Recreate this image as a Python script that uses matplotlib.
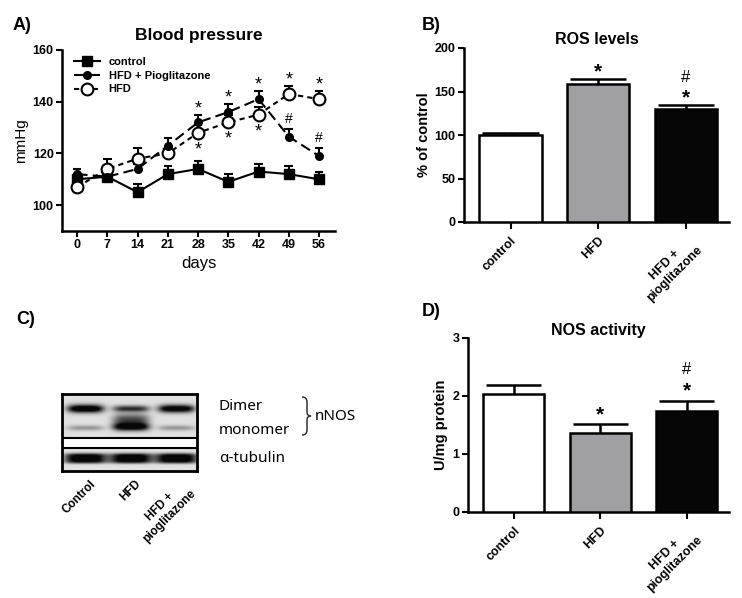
import numpy as np
import matplotlib
matplotlib.use('Agg')
import matplotlib.pyplot as plt
from matplotlib.path import Path
from matplotlib.patches import PathPatch

plt.rcParams['font.family'] = ['Liberation Sans', 'DejaVu Sans']

# A) blood pressure (mmHg)
days = [0, 7, 14, 21, 28, 35, 42, 49, 56]
ctrl_bp = [110, 111, 105, 112, 114, 109, 113, 112, 110]
ctrl_err = [2, 3, 3, 3, 3, 3, 3, 3, 3]
pio_bp = [112, 111, 114, 123, 132, 136, 141, 126.5, 119]
pio_err = [2, 2, 2, 3, 3, 3, 3, 3, 3]
hfd_bp = [107, 114, 118, 120, 128, 132, 135, 143, 141]
hfd_err = [2, 4, 4, 2, 3, 3, 3, 3, 3]
star_pio_days = [28, 35, 42]      # * above HFD+Pio
star_hfd_up_days = [49, 56]       # * above HFD
star_hfd_down_days = [28, 35, 42] # * below HFD
hash_pio_days = [49, 56]          # # above HFD+Pio

# B) ROS levels, D) NOS activity
groups = ['control', 'HFD', 'HFD +\npioglitazone']
ros = [100, 159, 130]
ros_err = [2, 5, 4]
nos = [2.03, 1.37, 1.75]
nos_err = [0.16, 0.14, 0.17]
bar_colors = ['white', '#a0a0a4', '#060606']

# C) western blot band intensities (0 = none, 1 = saturated)
lanes = ['Control', 'HFD', 'HFD +\npioglitazone']
dimer = [1.0, 0.65, 0.95]
monomer = [0.3, 1.0, 0.3]
tubulin = [1.0, 1.0, 1.0]

W, H = 742, 598
fig = plt.figure(figsize=(W / 100, H / 100), dpi=100)


def px_axes(left, top, right, bottom):
    return fig.add_axes([left / W, 1 - bottom / H, (right - left) / W, (bottom - top) / H])


def style(ax):
    for s in ['top', 'right']:
        ax.spines[s].set_visible(False)
    for s in ['left', 'bottom']:
        ax.spines[s].set_linewidth(1.8)
    ax.tick_params(width=1.5, length=4, labelsize=9, pad=2)
    for lab in ax.get_yticklabels() + ax.get_xticklabels():
        lab.set_fontweight('bold')


def up_err(ax, x, y, err, half, lw):
    x = np.asarray(x, float)
    top = np.asarray(y) + np.asarray(err)
    ax.vlines(x, y, top, color='black', lw=lw, zorder=2)
    ax.hlines(top, x - half, x + half, color='black', lw=lw, zorder=2)


# ---------------- A ----------------
axA = px_axes(62, 50, 335, 231)
up_err(axA, days, ctrl_bp, ctrl_err, 1.0, 1.5)
up_err(axA, days, pio_bp, pio_err, 1.0, 1.5)
up_err(axA, days, hfd_bp, hfd_err, 1.0, 1.5)
axA.plot(days, ctrl_bp, '-', color='black', lw=1.5, marker='s', ms=6.5, label='control', zorder=3)
axA.plot(days, pio_bp, color='black', lw=1.5, ls=(0, (5, 2.5)), marker='o', ms=5.5,
         label='HFD + Pioglitazone', zorder=4)
axA.plot(days, hfd_bp, color='black', lw=1.5, ls=(0, (2.5, 2)), marker='o', ms=8.5,
         mfc='white', mew=1.5, label='HFD', zorder=3)
axA.set_xlim(-3.5, 59.7)
axA.set_ylim(90, 160)
axA.set_xticks(days)
axA.set_yticks([100, 120, 140, 160])
axA.set_xlabel('days', fontsize=12, labelpad=3)
axA.set_ylabel('mmHg', fontsize=11, labelpad=3)
axA.set_title('Blood pressure', fontsize=12.5, fontweight='bold', pad=7)
style(axA)
axA.legend(loc='upper left', frameon=False, prop={'size': 8, 'weight': 'bold'},
           handlelength=2.3, borderaxespad=0.2, labelspacing=0.35,
           bbox_to_anchor=(0.02, 1.0))

for d in star_pio_days:
    i = days.index(d)
    axA.text(d, pio_bp[i] + pio_err[i] - 1.0, '*', ha='center', va='bottom', fontsize=13)
for d in star_hfd_up_days:
    i = days.index(d)
    axA.text(d, hfd_bp[i] + hfd_err[i] - 1.0, '*', ha='center', va='bottom', fontsize=13)
for d in star_hfd_down_days:
    i = days.index(d)
    axA.text(d, hfd_bp[i] - 3.3, '*', ha='center', va='top', fontsize=13)
for d in hash_pio_days:
    i = days.index(d)
    axA.text(d, pio_bp[i] + pio_err[i] + 1.2, '#', ha='center', va='bottom', fontsize=10)


def bar_panel(ax, vals, errs, title, ylabel, ylim, yticks, star_px, hash_px, tpad):
    x = np.arange(len(vals))
    ax.bar(x, vals, width=0.71, color=bar_colors, edgecolor='black', lw=1.8, zorder=3)
    up_err(ax, x, vals, errs, 0.32, 1.8)
    ax.set_xlim(-0.53, 2.49)
    ax.set_ylim(*ylim)
    ax.set_yticks(yticks)
    ax.set_xticks(x)
    ax.set_xticklabels(groups, rotation=45, ha='right', rotation_mode='anchor',
                       multialignment='center')
    ax.set_title(title, fontsize=11.5, fontweight='bold', pad=tpad)
    ax.set_ylabel(ylabel, fontsize=10.5, fontweight='bold', labelpad=3)
    style(ax)
    ax.tick_params(axis='x', length=5, pad=4)
    per_px = (ylim[1] - ylim[0]) / 174.0
    ax.text(1, vals[1] + errs[1] + star_px * per_px, '*', ha='center', va='bottom',
            fontsize=15, fontweight='bold')
    ax.text(2, vals[2] + errs[2] + star_px * per_px, '*', ha='center', va='bottom',
            fontsize=15, fontweight='bold')
    ax.text(2, vals[2] + errs[2] + hash_px * per_px, '#', ha='center', va='bottom', fontsize=12)


# ---------------- B ----------------
axB = px_axes(464, 48, 729, 222)
bar_panel(axB, ros, ros_err, 'ROS levels', '% of control', (0, 200), [0, 50, 100, 150, 200],
          -2, 20, 3)

# ---------------- D ----------------
axD = px_axes(468, 338, 729, 512)
bar_panel(axD, nos, nos_err, 'NOS activity', 'U/mg protein', (0, 3), [0, 1, 2, 3],
          0, 24, -6)

# ---------------- C (blot) ----------------
axC = px_axes(62, 394, 197, 471)
bw, bh = 135, 77
cols = np.arange(bw)[None, :]
rows = np.arange(bh)[:, None]
lane_x = [23, 68, 113]
dark = np.zeros((bh, bw))
for k in range(len(lanes)):
    gx = np.exp(-((cols - lane_x[k]) / 18.0) ** 4)
    dark += 1.1 * dimer[k] * gx * np.exp(-((rows - 15) / (1.6 + 2.4 * dimer[k])) ** 2)
    if monomer[k] > 0.5:
        dark += monomer[k] * gx * np.exp(-((rows - 33) / 3.8) ** 2)
        dark += 0.6 * monomer[k] * gx * np.exp(-((rows - 26) / 6.0) ** 2)
    else:
        dark += monomer[k] * gx * np.exp(-((rows - 34) / 2.6) ** 2)
    gxt = np.exp(-((cols - lane_x[k]) / 21.0) ** 4)
    dark += tubulin[k] * gxt * np.exp(-((rows - 64) / 5.0) ** 4)
img = np.clip(0.88 - 1.0 * dark, 0.03, 1)
gap = (rows >= 44) & (rows <= 54)
img = np.where(gap, 1.0, img)
axC.imshow(img, cmap='gray', vmin=0, vmax=1, extent=(0, bw, bh, 0), aspect='auto',
           interpolation='bilinear')
axC.axhline(44, color='black', lw=1.5)
axC.axhline(54, color='black', lw=1.5)
for s in axC.spines.values():
    s.set_linewidth(2)
axC.set_xticks([])
axC.set_yticks([])
for k, name in enumerate(lanes):
    axC.text(lane_x[k] + 5, bh + 7, name, rotation=45, ha='right', va='top',
             rotation_mode='anchor', multialignment='center', fontsize=8.5, fontweight='bold')

blot_font = ['Noto Sans', 'DejaVu Sans']
fig.text(219 / W, 1 - 407 / H, 'Dimer', fontsize=11, family=blot_font, va='center')
fig.text(219 / W, 1 - 430 / H, 'monomer', fontsize=11, family=blot_font, va='center')
fig.text(219 / W, 1 - 459 / H, 'α-tubulin', fontsize=11, family=blot_font, va='center')
fig.text(315 / W, 1 - 416 / H, 'nNOS', fontsize=11, family=blot_font, va='center')

# curly brace grouping Dimer/monomer
ov = fig.add_axes([0, 0, 1, 1], zorder=-1)
ov.set_xlim(0, W)
ov.set_ylim(H, 0)
ov.axis('off')
bx, tip, top, mid, bot = 302, 311, 397, 416, 435
verts = [(bx, top), (bx + 5, top), (bx + 5, top + 5), (bx + 5, mid - 4),
         (bx + 5, mid), (tip, mid), (bx + 5, mid), (bx + 5, mid + 4),
         (bx + 5, bot - 5), (bx + 5, bot), (bx, bot)]
codes = [Path.MOVETO, Path.CURVE3, Path.CURVE3, Path.LINETO,
         Path.CURVE3, Path.CURVE3, Path.CURVE3, Path.CURVE3,
         Path.LINETO, Path.CURVE3, Path.CURVE3]
ov.add_patch(PathPatch(Path(verts, codes), fill=False, lw=1.1, edgecolor='#333333'))

# panel letters
for lab, (x, y) in {'A)': (13, 25), 'B)': (422, 25), 'C)': (16, 320), 'D)': (422, 312)}.items():
    fig.text(x / W, 1 - y / H, lab, fontsize=13, fontweight='bold', va='center')

fig.savefig('out.png', dpi=100)
